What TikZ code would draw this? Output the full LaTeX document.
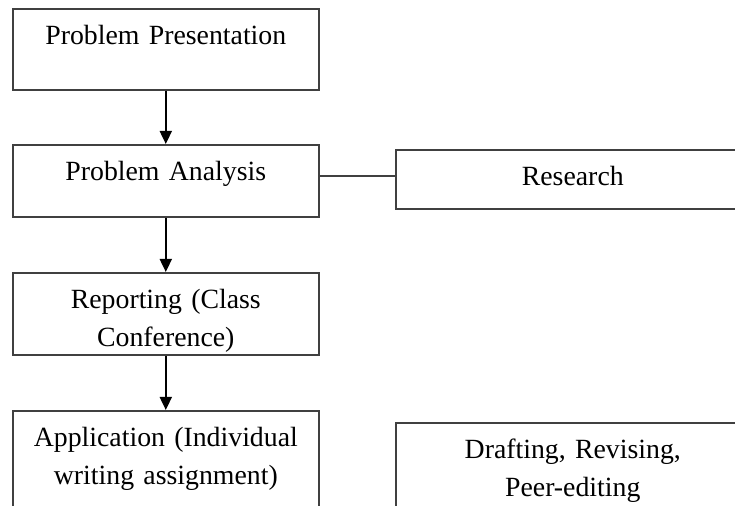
\documentclass[tikz,border=0pt]{standalone}
\usepackage{fontspec}
\setmainfont{Liberation Serif}
\usetikzlibrary{arrows.meta}
\tikzstyle{box}=[draw=black!75,line width=0.8pt,rectangle,anchor=north west,align=center,inner xsep=3pt,inner ysep=8pt,text height=10pt,font=\fontsize{13.9}{18.75}\selectfont]
\tikzstyle{arr}=[-{Triangle[length=6.5pt,width=6pt]},line width=0.9pt]

\begin{document}
\begin{tikzpicture}[x=0.5pt,y=-0.5pt]
\clip (0,0) rectangle (735,506);
\node[box,text width=147pt,text depth=14.5pt] at (12,8) (pres) {Problem Presentation};
\node[box,text width=147pt,text depth=10pt] at (12,144) (anal) {Problem Analysis};
\node[box,text width=171pt,text depth=3.5pt] at (395,149) (res) {Research};
\node[box,text width=147pt,text depth=15pt] at (12,272) (rep) {Reporting (Class\\Conference)};
\node[box,text width=147pt,text depth=29.5pt] at (12,410) (app) {Application (Individual\\writing assignment)};
\node[box,text width=171pt,text depth=27pt] at (395,422) (draft) {Drafting, Revising,\\Peer-editing};
\draw[arr] (pres) -- (anal);
\draw[arr] (anal) -- (rep);
\draw[arr] (rep) -- (app);
\draw[line width=0.8pt,black!75] ([yshift=1.5pt]anal.east |- res.west) -- ([yshift=1.5pt]res.west);
\end{tikzpicture}
\end{document}
